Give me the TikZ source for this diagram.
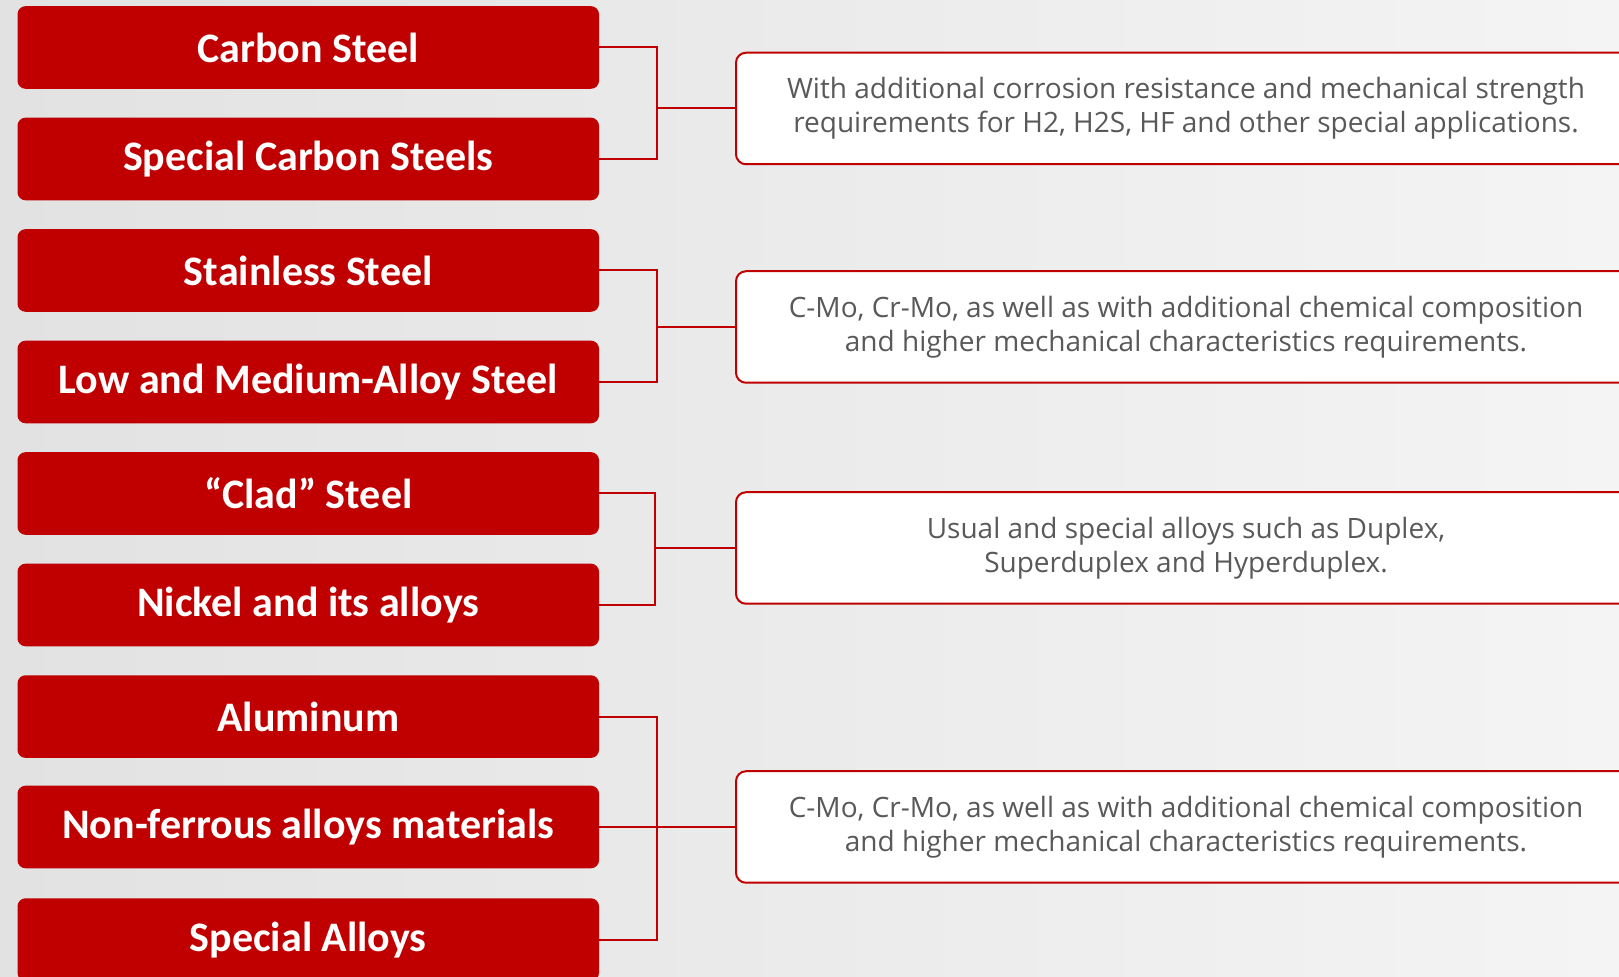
\documentclass[tikz,border=0pt]{standalone}
\usepackage{fontspec}
\setmainfont{Carlito}
\newfontfamily\notefont{Open Sans}

\definecolor{steelred}{HTML}{C00000}
\definecolor{notegray}{HTML}{595959}
\definecolor{bgdark}{HTML}{E2E2E2}
\definecolor{bglight}{HTML}{F4F4F4}

\tikzset{
  material/.style={fill=steelred, rounded corners=4pt, inner sep=0pt,
    minimum width=290.75pt, minimum height=41.3pt,
    text=white, font=\bfseries\fontsize{21}{25}\selectfont},
  note/.style={draw=steelred, line width=1pt, fill=white, rounded corners=5pt,
    minimum width=450pt, minimum height=55.75pt, inner sep=0pt,
    text=notegray, align=center, font=\notefont\fontsize{14}{17}\selectfont},
  link/.style={steelred, line width=1pt}
}

\begin{document}
\begin{tikzpicture}[x=0.5pt, y=-0.5pt]

\clip (0,0) rectangle (1619,977);
\shade[left color=bgdark, right color=bglight] (0,0) rectangle (1619,977);

% -------- materials -----------
\node[material] (cs)   at (308.25, 47.5)  {Carbon Steel};
\node[material] (scs)  at (308.25, 159)   {Special Carbon Steels};
\node[material] (ss)   at (308.25, 270.5) {Stainless Steel};
\node[material] (lmas) at (308.25, 382)   {Low and Medium-Alloy Steel};
\node[material] (clad) at (308.25, 493.5) {“Clad” Steel};
\node[material] (ni)   at (308.25, 605)   {Nickel and its alloys};
\node[material] (al)   at (308.25, 716.6) {Aluminum};
\node[material] (nf)   at (308.25, 827)   {Non-ferrous alloys materials};
\node[material] (sa)   at (308.25, 939.6) {Special Alloys};

% -------- notes -----------
\node[note] (note1) at (1186, 108.5) {With additional corrosion resistance and mechanical strength\\requirements for H2, H2S, HF and other special applications.};
\node[note] (note2) at (1186, 327) {C-Mo, Cr-Mo, as well as with additional chemical composition\\and higher mechanical characteristics requirements.};
\node[note] (note3) at (1186, 548) {Usual and special alloys such as Duplex,\\Superduplex and Hyperduplex.};
\node[note] (note4) at (1186, 827) {C-Mo, Cr-Mo, as well as with additional chemical composition\\and higher mechanical characteristics requirements.};

% -------- brackets -----------
\coordinate (bar) at (657,0);
\coordinate (bar3) at (655,0);
\draw[link] (cs.east) -- (cs.east -| bar) -- (scs.east -| bar) -- (scs.east);
\draw[link] (bar |- note1.west) -- (note1.west);
\draw[link] (ss.east) -- (ss.east -| bar) -- (lmas.east -| bar) -- (lmas.east);
\draw[link] (bar |- note2.west) -- (note2.west);
\draw[link] (clad.east) -- (clad.east -| bar3) -- (ni.east -| bar3) -- (ni.east);
\draw[link] (bar3 |- note3.west) -- (note3.west);
\draw[link] (al.east) -- (al.east -| bar) -- (sa.east -| bar) -- (sa.east);
\draw[link] (nf.east) -- (note4.west);

\end{tikzpicture}
\end{document}
